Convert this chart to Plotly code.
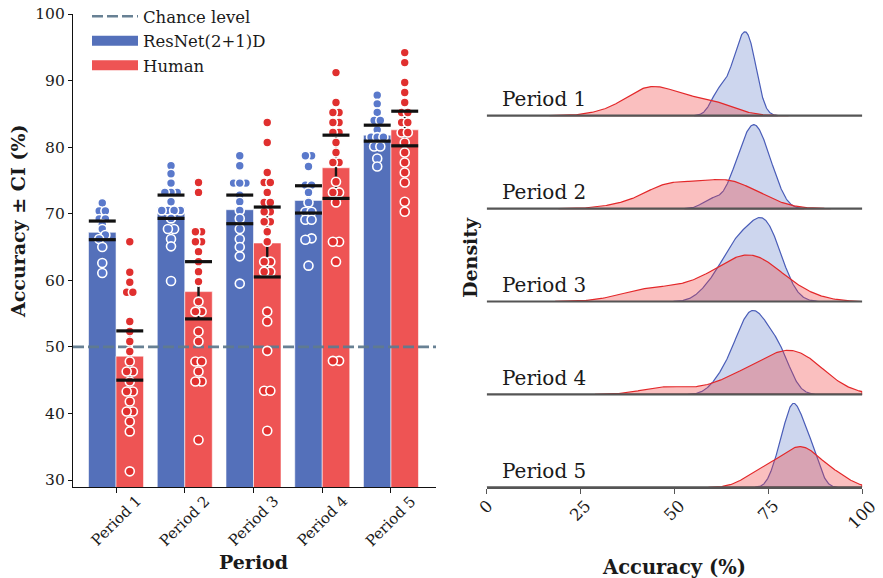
import numpy as np
import plotly.graph_objects as go

# ---------------- data ----------------
periods = ["Period 1", "Period 2", "Period 3", "Period 4", "Period 5"]

resnet_mean = [67.2, 70.9, 70.6, 72.0, 81.8]
resnet_ci_low = [66.1, 69.3, 68.5, 70.1, 80.9]
resnet_ci_high = [68.9, 72.8, 72.8, 74.2, 83.3]

human_mean = [48.6, 58.3, 65.6, 76.9, 82.6]
human_ci_low = [45.0, 54.2, 60.5, 72.3, 80.2]
human_ci_high = [52.4, 62.8, 71.0, 81.8, 85.4]

chance_level = 50

resnet_p1 = [71.6, 70.4, 70.4, 69.2, 69.2, 68.4, 67.7, 66.8, 66.2, 65.0, 62.6, 61.1]
resnet_p2 = [77.2, 76.0, 74.6, 73.2, 73.2, 73.2, 71.8, 70.5, 70.5, 70.5, 70.5, 69.3, 67.7, 67.7, 66.2, 65.1, 59.9]
resnet_p3 = [78.7, 77.2, 74.6, 74.6, 74.6, 72.8, 71.8, 70.5, 69.3, 67.7, 66.2, 65.0, 63.6, 59.5]
resnet_p4 = [78.7, 78.7, 77.1, 74.3, 74.3, 73.2, 71.7, 70.3, 70.3, 69.1, 69.1, 66.3, 66.1, 62.2]
resnet_p5 = [87.8, 86.5, 85.2, 84.0, 84.0, 82.6, 81.5, 81.5, 81.5, 80.1, 80.1, 78.3, 77.1]

human_p1 = [65.8, 61.2, 59.7, 58.2, 58.2, 53.8, 52.3, 50.8, 49.3, 47.8, 46.3, 46.3, 44.8, 43.3,
            43.3, 41.8, 40.3, 40.3, 38.8, 37.3, 31.3]
human_p2 = [74.7, 73.2, 67.3, 67.3, 65.8, 65.8, 64.3, 62.8, 61.3, 59.8, 56.8, 55.3, 55.3, 52.3,
            50.8, 47.8, 47.8, 46.3, 44.8, 44.8, 36.0]
human_p3 = [83.7, 80.7, 76.2, 74.7, 74.7, 73.2, 71.7, 71.7, 70.3, 70.3, 68.8, 68.8, 67.3, 65.8,
            62.8, 62.8, 61.3, 61.3, 55.3, 53.8, 49.4, 43.4, 43.4, 37.4]
human_p4 = [91.2, 86.7, 85.2, 85.2, 83.7, 83.7, 82.2, 82.2, 80.7, 79.2, 77.7, 77.7, 74.8, 73.2,
            73.2, 71.7, 65.8, 65.8, 62.8, 47.9, 47.9]
human_p5 = [94.2, 92.7, 89.7, 88.2, 86.7, 85.2, 85.2, 83.7, 83.7, 82.2, 82.2, 80.7, 79.2, 77.7,
            76.2, 74.7, 71.8, 70.3]

resnet_points = [resnet_p1, resnet_p2, resnet_p3, resnet_p4, resnet_p5]
human_points = [human_p1, human_p2, human_p3, human_p4, human_p5]

acc_ticks = [0, 25, 50, 75, 100]
acc_ticks_left = [30, 40, 50, 60, 70, 80, 90, 100]

# ---------------- styles ----------------
FONT = "DejaVu Serif"
TXT = "#1a1a1a"
BLUE_BAR = "#5470BA"
RED_BAR = "#EE5454"
BLUE_PT = "#5A79CB"
RED_PT = "#E0302F"
BLUE_LINE = "#4A5DB8"
RED_LINE = "#E3282A"
BLUE_FILL = "rgba(76,109,194,0.28)"
RED_FILL = "rgba(240,60,60,0.33)"
CHANCE_COL = "rgba(96,122,142,0.95)"
XR1 = [-0.626, 4.655]
YR1 = [28.95, 100]
XR2 = [0, 100]
BAR_HALF = 0.2
PEAK = 0.904
W, H = 883, 578


def px(x):
    return x / W


def py(y):
    return 1 - y / H


fig = go.Figure()
xi = np.arange(len(periods))

# bars
fig.add_trace(go.Bar(x=xi, y=resnet_mean, name="ResNet(2+1)D", showlegend=False,
                     marker=dict(color=BLUE_BAR, line=dict(color="rgba(255,255,255,0.7)", width=0.8))))
fig.add_trace(go.Bar(x=xi, y=human_mean, name="Human", showlegend=False,
                     marker=dict(color=RED_BAR, line=dict(color="rgba(255,255,255,0.7)", width=0.8))))

# chance line (also legend entry)
fig.add_trace(go.Scatter(x=XR1, y=[chance_level, chance_level], mode="lines", name="Chance level",
                         line=dict(color=CHANCE_COL, width=2.6, dash="11px,4px"),
                         legendgroup="a", hoverinfo="skip", cliponaxis=True))
# legend entries for the bar series
fig.add_trace(go.Scatter(x=[None], y=[None], mode="lines", name="ResNet(2+1)D",
                         line=dict(color=BLUE_BAR, width=11), legendgroup="b"))
fig.add_trace(go.Scatter(x=[None], y=[None], mode="lines", name="Human",
                         line=dict(color=RED_BAR, width=11), legendgroup="c"))


def seg_lines(xs, y0s, y1s):
    X, Y = [], []
    for x, a, b in zip(xs, y0s, y1s):
        X += [x, x, None]
        Y += [a, b, None]
    return X, Y


def cap_lines(xs, ys, hw):
    X, Y = [], []
    for x, y in zip(xs, ys):
        X += [x - hw, x + hw, None]
        Y += [y, y, None]
    return X, Y


def swarm_offsets(vals, step=0.09, tol=0.6):
    vals = np.asarray(vals, dtype=float)
    order = np.argsort(vals)
    offs = np.zeros(len(vals))
    clusters = []
    for idx in order:
        if clusters and abs(vals[idx] - vals[clusters[-1][0]]) < tol:
            clusters[-1].append(idx)
        else:
            clusters.append([idx])
    for c in clusters:
        k = len(c)
        for j, idx in enumerate(c):
            offs[idx] = (j - (k - 1) / 2) * step
    return offs


centers_b = xi - BAR_HALF
centers_r = xi + BAR_HALF

# CI vertical lines
for centers, lo, hi in [(centers_b, resnet_ci_low, resnet_ci_high), (centers_r, human_ci_low, human_ci_high)]:
    X, Y = seg_lines(centers, lo, hi)
    fig.add_trace(go.Scatter(x=X, y=Y, mode="lines", line=dict(color="#151515", width=2.4),
                             showlegend=False, hoverinfo="skip"))

# individual points
for pts_list, centers, col in [(resnet_points, centers_b, BLUE_PT), (human_points, centers_r, RED_PT)]:
    for c, pts in zip(centers, pts_list):
        offs = swarm_offsets(pts)
        fig.add_trace(go.Scatter(x=c + offs, y=pts, mode="markers", showlegend=False,
                                 marker=dict(color=col, size=9, line=dict(color="white", width=1.6))))

# CI caps
for centers, lo, hi in [(centers_b, resnet_ci_low, resnet_ci_high), (centers_r, human_ci_low, human_ci_high)]:
    X1, Y1 = cap_lines(centers, lo, BAR_HALF * 0.98)
    X2, Y2 = cap_lines(centers, hi, BAR_HALF * 0.98)
    fig.add_trace(go.Scatter(x=X1 + X2, y=Y1 + Y2, mode="lines", line=dict(color="#111111", width=3.2),
                             showlegend=False, hoverinfo="skip"))


# ---------------- ridge KDE ----------------
def kde(vals):
    v = np.asarray(vals, dtype=float)
    n = len(v)
    bw = v.std(ddof=1) * n ** (-0.2)
    grid = np.linspace(v.min() - 3 * bw, v.max() + 3 * bw, 300)
    grid = grid[(grid >= XR2[0]) & (grid <= XR2[1])]
    d = np.exp(-0.5 * ((grid[:, None] - v[None, :]) / bw) ** 2).sum(1) / (n * bw * np.sqrt(2 * np.pi))
    return grid, d


n_per = len(periods)
for i in range(n_per):
    base = n_per - 1 - i
    gb, db = kde(resnet_points[i])
    gr, dr = kde(human_points[i])
    m = max(db.max(), dr.max())
    for g, d, fc, lc in [(gb, db, BLUE_FILL, BLUE_LINE), (gr, dr, RED_FILL, RED_LINE)]:
        y = base + d / m * PEAK
        X = np.concatenate([g, g[::-1]])
        Y = np.concatenate([y, np.full(len(g), base)])
        fig.add_trace(go.Scatter(x=X, y=Y, mode="lines", fill="toself", fillcolor=fc,
                                 line=dict(color=lc, width=1.2), showlegend=False,
                                 xaxis="x2", yaxis="y2", hoverinfo="skip"))
    fig.add_trace(go.Scatter(x=XR2, y=[base, base], mode="lines", line=dict(color="#555555", width=2.2),
                             showlegend=False, xaxis="x2", yaxis="y2", hoverinfo="skip"))
    fig.add_annotation(x=3.5, y=base + 0.03, xref="x2", yref="y2", text=periods[i], showarrow=False,
                       xanchor="left", yanchor="bottom", font=dict(family=FONT, size=20, color=TXT))

# rotated tick labels (centred under their ticks, as in the original)
for i, p in enumerate(periods):
    fig.add_annotation(x=i, y=py(521), xref="x", yref="paper", text=p, textangle=-45,
                       showarrow=False, xanchor="center", yanchor="middle",
                       font=dict(family=FONT, size=15, color=TXT))
TS = 16.5
for t in acc_ticks:
    lab = str(t)
    ext = (0.636 * len(lab) + 0.73) * TS * 0.707
    fig.add_annotation(x=t, y=py(499 + ext / 2), xref="x2", yref="paper", text=lab, textangle=-45,
                       showarrow=False, xanchor="center", yanchor="middle",
                       font=dict(family=FONT, size=TS, color=TXT))

title_font = dict(family=FONT, size=19, color=TXT, weight="bold")
for txt, x, y, ang, fnt in [("Accuracy ± CI (%)", 18, 222, -90, title_font),
                            ("Period", 254, 562, 0, title_font),
                            ("Density", 470, 257, -90, title_font),
                            ("Accuracy (%)", 674, 567, 0, dict(title_font, size=19.5))]:
    fig.add_annotation(x=px(x), y=py(y), xref="paper", yref="paper", text=txt, textangle=ang,
                       showarrow=False, xanchor="center", yanchor="middle", font=fnt)

fig.update_layout(
    width=W, height=H, margin=dict(l=0, r=0, t=0, b=0, autoexpand=False),
    paper_bgcolor="white", plot_bgcolor="white",
    barmode="group", bargap=0.2, bargroupgap=0,
    font=dict(family=FONT, color=TXT),
    xaxis=dict(domain=[px(73), px(436)], range=XR1, tickvals=list(xi), showticklabels=False,
               ticks="outside", ticklen=5, tickcolor="#111", showline=True,
               linecolor="#111", linewidth=1.2, showgrid=False, zeroline=False,
               automargin=False, anchor="y"),
    yaxis=dict(domain=[py(487), py(14)], range=YR1, tickvals=acc_ticks_left, ticks="outside",
               ticklen=4, tickcolor="#111", showline=True, linecolor="#111", linewidth=1.2,
               showgrid=False, zeroline=False, tickfont=dict(family=FONT, size=15.5, color=TXT),
               automargin=False, anchor="x", ticklabeloverflow="allow"),
    xaxis2=dict(domain=[px(486.7), px(862.3)], range=XR2, tickvals=acc_ticks, showticklabels=False,
                ticks="outside", ticklen=5, tickcolor="#555", showline=True, linecolor="#555",
                linewidth=2.2, showgrid=False, zeroline=False, anchor="y2", automargin=False),
    yaxis2=dict(domain=[py(487.3), py(22.8)], range=[0, 5], visible=False, anchor="x2",
                automargin=False),
    legend=dict(x=px(87), y=py(-1), xanchor="left", yanchor="top", bgcolor="rgba(0,0,0,0)",
                font=dict(family=FONT, size=16.5, color=TXT), traceorder="grouped",
                tracegroupgap=0, itemwidth=46),
    showlegend=True,
)

# remove the browser's default 8px page margin so the 883x578 figure fills the window
fig.write_html("out.html", config={"displayModeBar": False},
               post_script="document.body.style.margin='0';")
